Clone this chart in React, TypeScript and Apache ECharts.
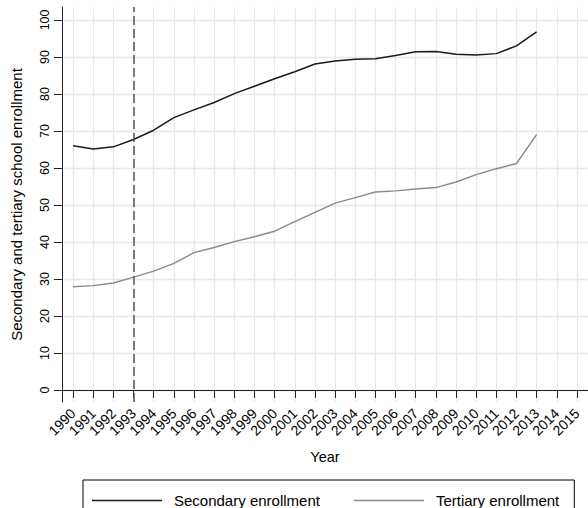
import React, { useEffect, useRef } from "react";
import * as echarts from "echarts";

const years = [1990,1991,1992,1993,1994,1995,1996,1997,1998,1999,2000,2001,2002,2003,2004,2005,2006,2007,2008,2009,2010,2011,2012,2013];
const secondary = [66.0,65.1,65.7,67.7,70.2,73.6,75.7,77.7,80.1,82.1,84.1,86.0,88.1,88.9,89.4,89.5,90.4,91.4,91.5,90.7,90.5,90.9,93.0,96.8];
const tertiary = [27.9,28.2,28.9,30.5,32.1,34.2,37.1,38.5,40.1,41.4,42.9,45.5,48.0,50.5,52.0,53.5,53.8,54.3,54.7,56.2,58.2,59.8,61.2,69.0];
const xTicks = [1990,1991,1992,1993,1994,1995,1996,1997,1998,1999,2000,2001,2002,2003,2004,2005,2006,2007,2008,2009,2010,2011,2012,2013,2014,2015];
const yTicks = [0,10,20,30,40,50,60,70,80,90,100];
const markYear = 1993;

const FONT = "Liberation Sans, Arial, Helvetica, sans-serif";

export default function App() {
  const ref = useRef<HTMLDivElement>(null);
  useEffect(() => {
    const chart = echarts.init(ref.current!, null, { renderer: "svg" });
    chart.setOption({
      animation: false,
      backgroundColor: "#fff",
      textStyle: { fontFamily: FONT },
      grid: { left: 62, top: 7, bottom: 106, right: -11.6, containLabel: false },
      xAxis: {
        type: "value",
        min: 1989.45,
        max: 2015.55,
        name: "Year",
        nameLocation: "middle",
        nameGap: 47,
        nameTextStyle: { color: "#000", fontSize: 14.5, fontFamily: FONT },
        axisLine: { show: true, lineStyle: { color: "#222", width: 1 } },
        axisTick: { show: true, length: 8, lineStyle: { color: "#222" }, customValues: xTicks },
        axisLabel: { rotate: 45, customValues: xTicks, color: "#000", fontSize: 14, fontFamily: FONT, margin: 9, formatter: (v: number) => String(v) },
        splitLine: { show: true, lineStyle: { color: "#e8e8e8", width: 1.3 } },
      },
      yAxis: {
        type: "value",
        min: -3.25,
        max: 103.5,
        name: "Secondary and tertiary school enrollment",
        nameLocation: "middle",
        nameGap: 38,
        nameTextStyle: { color: "#000", fontSize: 15, fontFamily: FONT },
        axisLine: { show: true, lineStyle: { color: "#222", width: 1 } },
        axisTick: { show: true, length: 8, lineStyle: { color: "#222" }, customValues: yTicks },
        axisLabel: { rotate: 90, customValues: yTicks, color: "#000", fontSize: 12.5, fontFamily: FONT, margin: 11 },
        splitLine: { show: true, lineStyle: { color: "#e8e8e8", width: 1.3 } },
      },
      legend: {
        left: 83,
        top: 480,
        orient: "horizontal",
        borderColor: "#000",
        borderWidth: 1,
        borderRadius: 0,
        padding: [13, 15, 12, 9],
        itemWidth: 70,
        itemHeight: 1.5,
        itemGap: 34,
        textStyle: { color: "#000", fontSize: 15, fontFamily: FONT, padding: [0, 0, 0, 7] },
        data: [
          { name: "Secondary enrollment", icon: "rect" },
          { name: "Tertiary enrollment", icon: "rect" },
        ],
      },
      series: [
        {
          name: "Secondary enrollment",
          type: "line",
          symbol: "none",
          data: years.map((y, i) => [y, secondary[i]]),
          lineStyle: { color: "#1a1a1a", width: 1.5 },
          itemStyle: { color: "#1a1a1a" },
          markLine: {
            silent: true,
            symbol: "none",
            label: { show: false },
            lineStyle: { color: "#555", type: [9, 4], width: 1.5 },
            data: [{ xAxis: markYear }],
          },
        },
        {
          name: "Tertiary enrollment",
          type: "line",
          symbol: "none",
          data: years.map((y, i) => [y, tertiary[i]]),
          lineStyle: { color: "#8a8a8a", width: 1.4 },
          itemStyle: { color: "#8a8a8a" },
        },
      ],
    });
    return () => chart.dispose();
  }, []);
  return <div ref={ref} style={{ position: "fixed", left: 0, top: 0, width: 588, height: 508 }} />;
}
